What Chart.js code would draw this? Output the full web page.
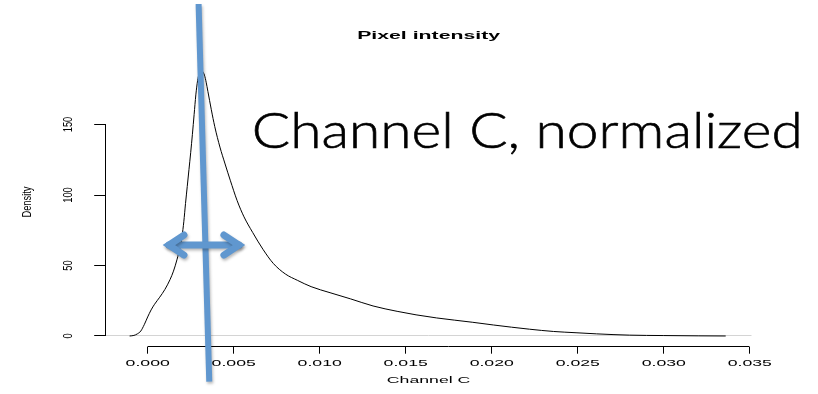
<!DOCTYPE html>
<html>
<head>
<meta charset="utf-8">
<title>Pixel intensity</title>
<script src="https://cdn.jsdelivr.net/npm/chart.js@4/dist/chart.umd.min.js"></script>
<style>
  html, body { margin: 0; padding: 0; background: #fff; }
  canvas { display: block; }
</style>
</head>
<body>
<canvas id="chart" width="818" height="394"></canvas>
<script>
// Kernel density estimate of normalized channel C pixel intensities
const channelC = [-0.00105, -0.0008, -0.0006, -0.0004, -0.0002, 0.0, 0.0002, 0.0004, 0.0007, 0.001,
  0.0013, 0.0015, 0.0017, 0.0019, 0.002, 0.0021, 0.0022, 0.0023, 0.0024, 0.0025,
  0.0026, 0.0027, 0.0028, 0.0029, 0.003, 0.0031, 0.0032, 0.0033, 0.0034, 0.0035,
  0.0037, 0.0039, 0.0042, 0.0045, 0.0048, 0.0052, 0.0056, 0.0061, 0.0067, 0.0073,
  0.008, 0.0087, 0.0095, 0.0106, 0.0118, 0.0131, 0.0145, 0.0156, 0.0168, 0.0189,
  0.0201, 0.0222, 0.0236, 0.0249, 0.0261, 0.028, 0.030, 0.032, 0.0336];
const density = [0, 0.4, 1.5, 3.5, 8, 13.5, 18.5, 22.5, 27.5, 33,
  40, 46, 54, 64, 71, 81, 94, 106, 118, 130,
  143, 157, 171, 181, 186.5, 188.5, 187.5, 185, 180, 173.5,
  160.5, 148.5, 134, 122, 110.5, 96, 84.5, 73.5, 61.5, 51.5,
  44, 39.5, 35, 30.7, 26.3, 21.3, 17.5, 15, 12.8, 9.7,
  7.8, 4.8, 3.2, 2.3, 1.5, 0.6, 0.3, 0.1, 0];

const xTickValues = [0, 0.005, 0.010, 0.015, 0.020, 0.025, 0.030, 0.035];
const yTickValues = [0, 50, 100, 150];

const mainTitle = 'Pixel intensity';
const xTitle = 'Channel C';
const yTitle = 'Density';
const calloutText = 'Channel C, normalized';

// Overlay marks in data units: line through the mode, spread arrow, callout anchor
const modeLineX = [0.00296, 0.00358];
const modeLineY = [235.5, -32.4];
const spreadArrowX = [0.00087, 0.00567];
const spreadArrowY = 64.5;
const calloutX = 0.00605;
const calloutY = 133.3;

const FONT = "'Liberation Sans', Arial, Helvetica, sans-serif";
const BLUE = 'rgb(96,151,207)';
const TEXT_STRETCH = 1.9;   // R graphics text is horizontally stretched
const ROT_TEXT_STRETCH = 1.45;

const canvas = document.getElementById('chart');
const ctx = canvas.getContext('2d');

// Stretch axis/title text horizontally in screen space around its anchor point.
(function patchText(c) {
  const base = c.fillText;
  c.fillText = function (text, x, y, maxWidth) {
    if (c.plainText) return base.call(c, text, x, y, maxWidth);
    const m = c.getTransform();
    const p = m.transformPoint(new DOMPoint(x, y));
    const s = Math.abs(m.b) > Math.abs(m.a) ? ROT_TEXT_STRETCH : TEXT_STRETCH;
    c.save();
    c.setTransform(new DOMMatrix().translate(p.x, p.y).scale(s, 1).translate(-p.x, -p.y).multiply(m));
    base.call(c, text, x, y, maxWidth);
    c.restore();
  };
})(ctx);

const align = (p) => Math.round(p - 0.5) + 0.5;

// Axis lines that only span the first to last tick
const rAxes = {
  id: 'rAxes',
  beforeDatasetsDraw(chart) {
    const { ctx: c, chartArea, scales: { x, y } } = chart;
    c.save();
    c.strokeStyle = '#000';
    c.lineWidth = 1;
    c.beginPath();
    const yb = align(chartArea.bottom);
    c.moveTo(align(x.getPixelForValue(xTickValues[0])), yb);
    c.lineTo(align(x.getPixelForValue(xTickValues[xTickValues.length - 1])), yb);
    const xl = align(chartArea.left);
    c.moveTo(xl, align(y.getPixelForValue(yTickValues[0])));
    c.lineTo(xl, align(y.getPixelForValue(yTickValues[yTickValues.length - 1])));
    c.stroke();
    c.restore();
  }
};

// Blue marker line, double arrow and callout text
const overlay = {
  id: 'overlay',
  afterDraw(chart) {
    const { ctx: c, scales: { x, y } } = chart;
    c.save();
    c.shadowColor = 'rgba(0,0,0,0.28)';
    c.shadowBlur = 3;
    c.shadowOffsetX = 1;
    c.shadowOffsetY = 2;
    c.strokeStyle = BLUE;

    // mode line
    c.lineWidth = 6;
    c.lineCap = 'butt';
    c.beginPath();
    c.moveTo(x.getPixelForValue(modeLineX[0]), y.getPixelForValue(modeLineY[0]));
    c.lineTo(x.getPixelForValue(modeLineX[1]), y.getPixelForValue(modeLineY[1]));
    c.stroke();

    // double-headed arrow
    const ay = y.getPixelForValue(spreadArrowY);
    const xa = x.getPixelForValue(spreadArrowX[0]);
    const xb = x.getPixelForValue(spreadArrowX[1]);
    const w = 7, armX = 15, armY = 10;
    const inset = (w / 2) / Math.sin(Math.atan2(armY, armX));
    c.lineWidth = w;
    c.lineJoin = 'miter';
    c.lineCap = 'round';
    c.beginPath();
    c.moveTo(xa + inset, ay);
    c.lineTo(xb - inset, ay);
    c.stroke();
    c.beginPath();
    c.moveTo(xa + inset + armX, ay - armY);
    c.lineTo(xa + inset, ay);
    c.lineTo(xa + inset + armX, ay + armY);
    c.stroke();
    c.beginPath();
    c.moveTo(xb - inset - armX, ay - armY);
    c.lineTo(xb - inset, ay);
    c.lineTo(xb - inset - armX, ay + armY);
    c.stroke();
    c.restore();

    // callout text
    c.save();
    c.plainText = true;
    c.fillStyle = '#000';
    c.strokeStyle = '#000';
    c.lineWidth = 0.6;
    c.font = "300 49px Lato, 'Open Sans', sans-serif";
    c.textAlign = 'left';
    c.textBaseline = 'alphabetic';
    const tx = x.getPixelForValue(calloutX);
    const ty = y.getPixelForValue(calloutY);
    const sx = 551 / c.measureText(calloutText).width;
    c.translate(tx, ty);
    c.scale(sx, 1);
    c.fillText(calloutText, 0, 0);
    c.strokeText(calloutText, 0, 0);
    c.plainText = false;
    c.restore();
  }
};

new Chart(ctx, {
  type: 'line',
  data: {
    datasets: [{
      data: channelC.map((v, i) => ({ x: v, y: density[i] })),
      borderColor: '#000',
      borderWidth: 1,
      pointRadius: 0,
      fill: false,
      cubicInterpolationMode: 'monotone'
    }]
  },
  options: {
    responsive: false,
    devicePixelRatio: 1,
    animation: false,
    events: [],
    layout: { padding: { top: 0, left: 0, bottom: 0, right: 66.5 } },
    plugins: {
      legend: { display: false },
      tooltip: { enabled: false },
      title: {
        display: true,
        text: mainTitle,
        fullSize: false,
        color: '#000',
        font: { family: FONT, size: 11.2, weight: 'bold' },
        padding: { top: 28.9, bottom: 15.06 }
      }
    },
    scales: {
      x: {
        type: 'linear',
        min: -0.00244,
        max: 0.0351,
        afterBuildTicks: (s) => { s.ticks = xTickValues.map(v => ({ value: v })); },
        afterFit: (s) => { s.height = 47.3; },
        border: { display: false },
        grid: { drawOnChartArea: false, drawTicks: true, tickLength: 7, color: '#000', tickColor: '#000', lineWidth: 1 },
        ticks: {
          autoSkip: false, maxRotation: 0, minRotation: 0, padding: 4,
          color: '#000', font: { family: FONT, size: 9.3 },
          callback: (v) => Number(v).toFixed(3)
        },
        title: {
          display: true, text: xTitle, color: '#000',
          font: { family: FONT, size: 9.3 }, padding: { top: 0, bottom: 8.4 }
        }
      },
      y: {
        type: 'linear',
        min: -7.6,
        max: 197.6,
        afterBuildTicks: (s) => { s.ticks = yTickValues.map(v => ({ value: v })); },
        afterFit: (s) => { s.width = 105.7; },
        border: { display: false },
        grid: {
          drawOnChartArea: true, drawTicks: true, tickLength: 11.5, lineWidth: 1,
          color: (c) => (c.tick && c.tick.value === 0 ? '#d4d4d4' : 'rgba(0,0,0,0)'),
          tickColor: '#000'
        },
        ticks: {
          minRotation: 90, maxRotation: 90, crossAlign: 'center', padding: 18.4,
          color: '#000', font: { family: FONT, size: 9.3 }
        },
        title: {
          display: true, text: yTitle, color: '#000',
          font: { family: FONT, size: 9.3 }, padding: { top: 21.4, bottom: 0 }
        }
      }
    }
  },
  plugins: [rAxes, overlay]
});
</script>
</body>
</html>
